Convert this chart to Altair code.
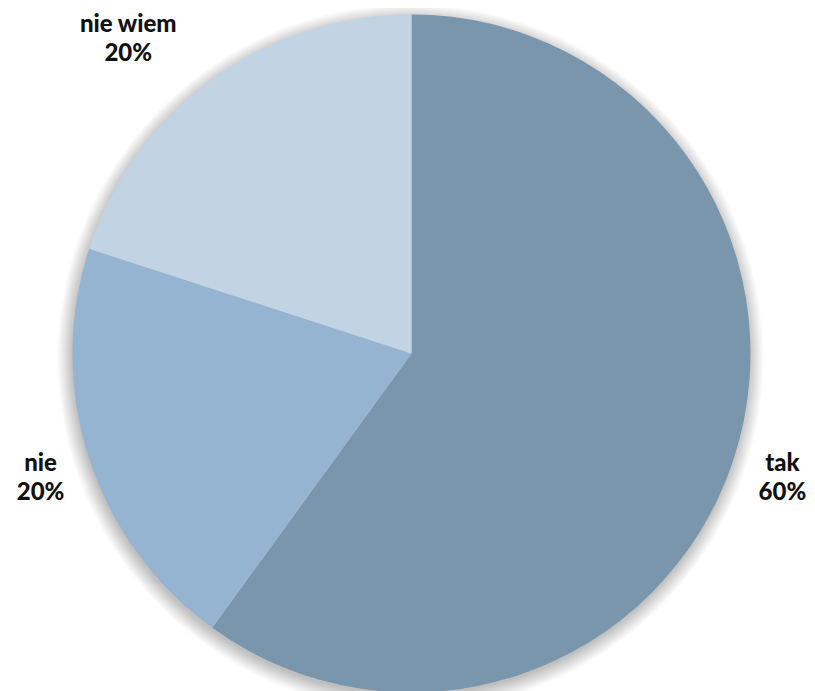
import altair as alt
import pandas as pd

categories = ["tak", "nie", "nie wiem"]
values = [60, 20, 20]
labels = ["tak\n60%", "nie\n20%", "nie wiem\n20%"]
colors = ["#7A96AD", "#95B4D2", "#C2D3E3"]
order = [0, 1, 2]

df = pd.DataFrame({"category": categories, "value": values, "label": labels, "order": order})

CX, CY, R = 403.5, 345.5, 339
theta_scale = alt.Scale(domain=[0, 100])
color_scale = alt.Scale(domain=categories, range=colors)

# soft shadow behind the pie
shadow_layers = []
for k in range(1, 17):
    shadow_layers.append(
        alt.Chart(pd.DataFrame({"d": [0]})).mark_arc(color="black", opacity=0.014).encode(
            theta=alt.value(0), theta2=alt.value(6.2832),
            radius=alt.value(R + k - 2),
            x=alt.value(CX - 1), y=alt.value(CY + 4),
        )
    )

pie = alt.Chart(df).mark_arc(stroke=None).encode(
    theta=alt.Theta("value:Q", stack=True, scale=theta_scale),
    color=alt.Color("category:N", scale=color_scale, legend=None),
    order=alt.Order("order:Q"),
    radius=alt.value(R),
    x=alt.value(CX), y=alt.value(CY),
)

base = alt.Chart(df).transform_window(
    cum="sum(value)", sort=[alt.SortField("order")], frame=[None, 0]
).transform_calculate(mid="datum.cum - datum.value / 2")

text_props = dict(font="Lato", fontWeight=900, fontSize=24, lineBreak="\n",
                  lineHeight=29, color="#111111", align="center", baseline="middle")

labels_a = base.transform_filter("datum.category != 'nie wiem'").mark_text(
    radius=390, dy=-10, **text_props
).encode(
    theta=alt.Theta("mid:Q", stack=None, scale=theta_scale),
    text="label:N",
    x=alt.value(CX), y=alt.value(CY),
)

labels_b = base.transform_filter("datum.category == 'nie wiem'").mark_text(
    radius=390, dx=-54, dy=-13, **text_props
).encode(
    theta=alt.Theta("mid:Q", stack=None, scale=theta_scale),
    text="label:N",
    x=alt.value(CX), y=alt.value(CY),
)

chart = alt.layer(*shadow_layers, pie, labels_a, labels_b).properties(
    width=799, height=683, autosize="none", padding=0, background="white"
).configure_view(stroke=None)

chart.save("out.html", embed_options={"renderer": "svg", "actions": False})
